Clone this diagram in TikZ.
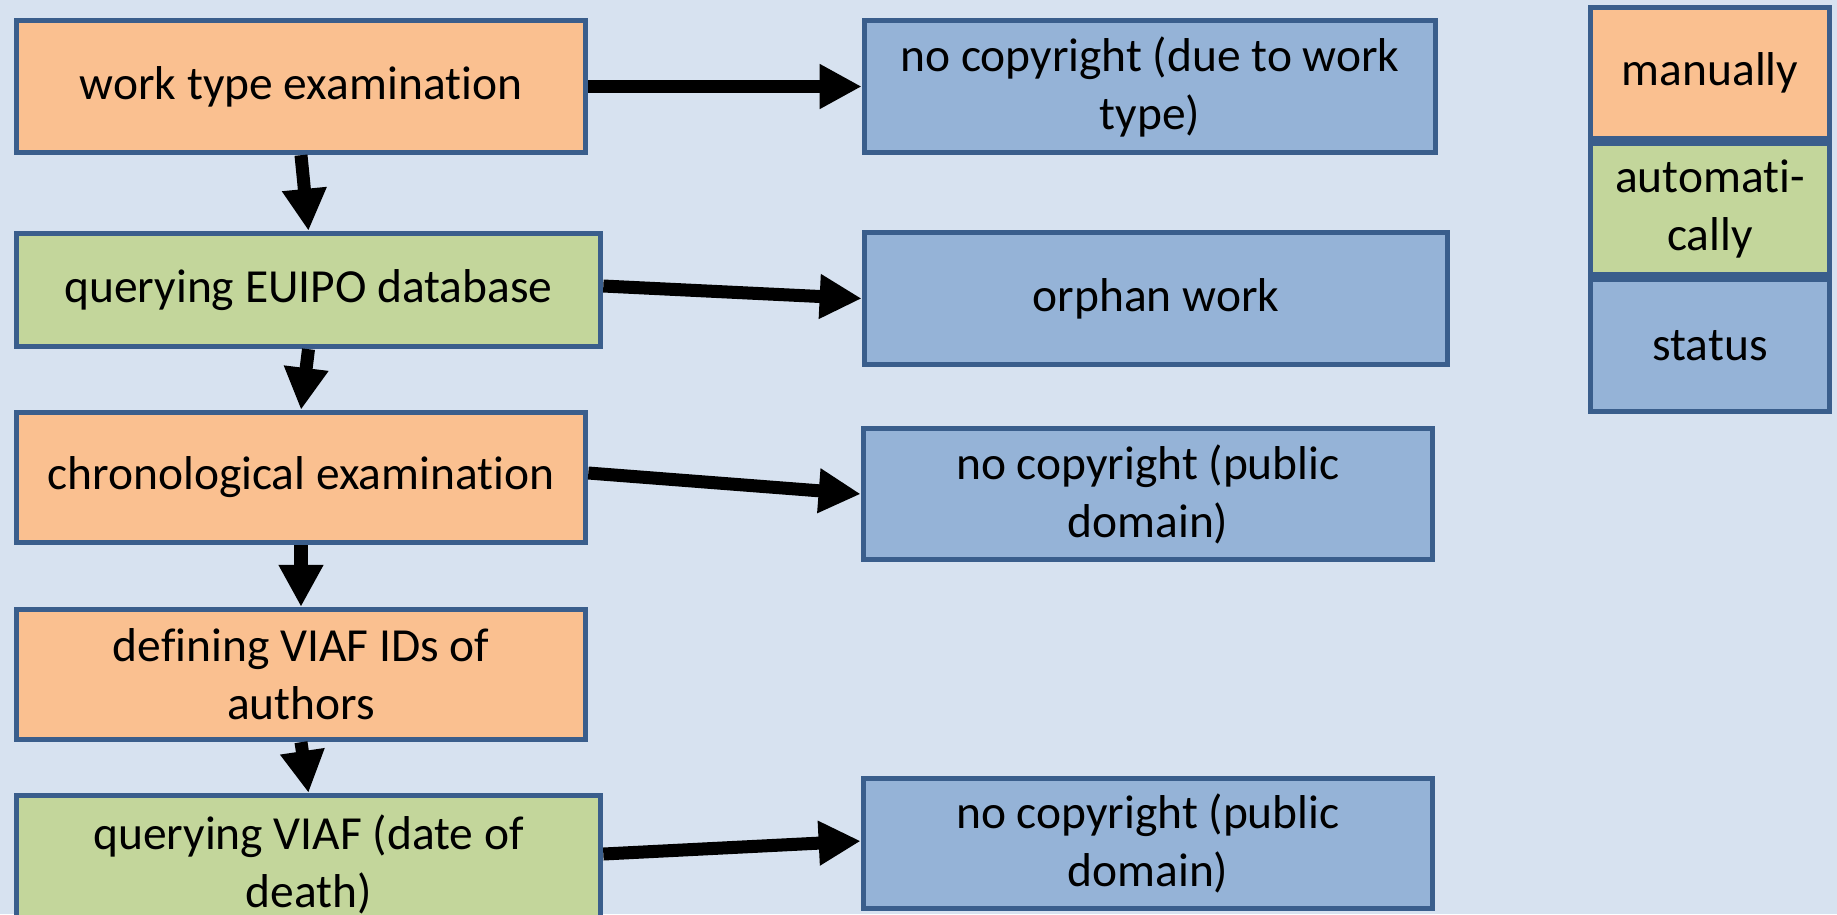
\documentclass[tikz,border=0pt]{standalone}
\usepackage{fontspec}
\setmainfont{Carlito}[Ligatures={NoCommon}]
\usepackage{tikz}
\usetikzlibrary{arrows.meta}
\definecolor{bgblue}{HTML}{D7E2F0}
\definecolor{frameblue}{HTML}{3A5E8C}
\definecolor{manualorange}{HTML}{FAC090}
\definecolor{autogreen}{HTML}{C3D69B}
\definecolor{statusblue}{HTML}{95B3D7}

\begin{document}
\begin{tikzpicture}[x=0.01cm, y=-0.01cm,
    box/.style={draw=frameblue, line width=1.5pt, inner sep=0pt, align=center,
        font=\fontsize{13.5}{16.5}\selectfont},
    manualbox/.style={box, fill=manualorange},
    autobox/.style={box, fill=autogreen},
    statusbox/.style={box, fill=statusblue},
    flow/.style={line width=3.7pt, -{Triangle[length=0.42cm, width=0.42cm]}}]
    \useasboundingbox (0,0) rectangle (1837,914);
    \fill[bgblue] (0,0) rectangle (1837,914);
    \node[manualbox, minimum width=5.69cm, minimum height=1.32cm] (wte) at (301,86.5) {work type examination};
    \node[autobox, minimum width=5.84cm, minimum height=1.13cm] (qeu) at (308.5,290) {querying EUIPO database};
    \node[manualbox, minimum width=5.69cm, minimum height=1.30cm] (chr) at (301,477.5) {chronological examination};
    \node[manualbox, minimum width=5.69cm, minimum height=1.30cm] (vid) at (301,674.5) {defining VIAF IDs of\\authors};
    \node[autobox, minimum width=5.84cm, minimum height=1.37cm] (qv) at (308.5,864) {querying VIAF (date of\\death)};
    \node[statusbox, minimum width=5.71cm, minimum height=1.32cm] (nc1) at (1150,86.5) {no copyright (due to work\\type)};
    \node[statusbox, minimum width=5.83cm, minimum height=1.32cm] (orph) at (1156,298.5) {orphan work};
    \node[statusbox, minimum width=5.69cm, minimum height=1.31cm] (pd1) at (1148,494) {no copyright (public\\domain)};
    \node[statusbox, minimum width=5.69cm, minimum height=1.30cm] (pd2) at (1148,843.5) {no copyright (public\\domain)};
    \node[manualbox, minimum width=2.39cm, minimum height=1.31cm] (keyman) at (1710,73) {manually};
    \node[autobox, minimum width=2.39cm, minimum height=1.31cm] (keyauto) at (1710,209) {automati-\\cally};
    \node[statusbox, minimum width=2.39cm, minimum height=1.32cm] (keystat) at (1710,345.5) {status};
    \draw[flow] (wte.east) -- (nc1.west);
    \draw[flow] ([yshift=0.04cm]qeu.east) -- (orph.west);
    \draw[flow] ([yshift=0.045cm]chr.east) -- (pd1.west);
    \draw[flow] ([yshift=0.1cm]qv.east) -- ([yshift=0.025cm]pd2.west);
    \draw[flow] (wte.south) -- (qeu.north);
    \draw[flow] (qeu.south) -- (chr.north);
    \draw[flow] (chr.south) -- (vid.north);
    \draw[flow] (vid.south) -- (qv.north);
\end{tikzpicture}
\end{document}
